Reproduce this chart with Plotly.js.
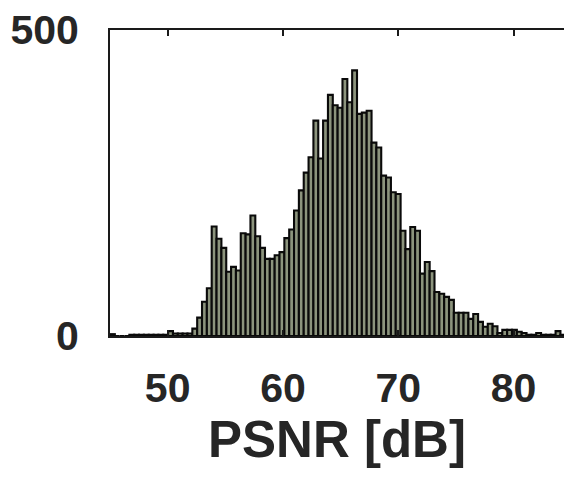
<!DOCTYPE html>
<html>
<head>
<meta charset="utf-8">
<script src="https://cdn.plot.ly/plotly-3.0.1.min.js"></script>
<style>
  html, body { margin: 0; padding: 0; background: #ffffff; }
  #chart { width: 564px; height: 477px; }
</style>
</head>
<body>
<div id="chart"></div>
<script>
// Histogram bin centres (PSNR in dB)
const binCenters = [
  45.21, 45.63, 46.05, 46.47, 46.89, 47.31, 47.73, 48.15, 48.57, 48.99,
  49.41, 49.83, 50.25, 50.67, 51.09, 51.51, 51.93, 52.35, 52.77, 53.19,
  53.61, 54.03, 54.45, 54.87, 55.29, 55.71, 56.13, 56.55, 56.97, 57.39,
  57.81, 58.23, 58.65, 59.07, 59.49, 59.91, 60.33, 60.75, 61.17, 61.59,
  62.01, 62.43, 62.85, 63.27, 63.69, 64.11, 64.53, 64.95, 65.37, 65.79,
  66.21, 66.63, 67.05, 67.47, 67.89, 68.31, 68.73, 69.15, 69.57, 69.99,
  70.41, 70.83, 71.25, 71.67, 72.09, 72.51, 72.93, 73.35, 73.77, 74.19,
  74.61, 75.03, 75.45, 75.87, 76.29, 76.71, 77.13, 77.55, 77.97, 78.39,
  78.81, 79.23, 79.65, 80.07, 80.49, 80.91, 81.33, 81.75, 82.17, 82.59,
  83.01, 83.43, 83.85, 84.27
];
// Counts per bin
const binCounts = [
  3, 0, 0, 0, 2, 2, 2, 2, 2, 2,
  2, 2, 8, 4, 4, 4, 4, 12, 30, 56,
  78, 179, 159, 144, 105, 113, 107, 168, 166, 197,
  163, 144, 126, 126, 132, 137, 160, 174, 205, 238,
  267, 292, 352, 290, 352, 394, 377, 373, 420, 382,
  434, 363, 365, 368, 316, 308, 262, 259, 235, 232,
  172, 142, 178, 172, 102, 121, 106, 72, 69, 64,
  59, 38, 38, 38, 28, 36, 23, 15, 20, 16,
  5, 10, 10, 10, 7, 5, 2, 2, 5, 2,
  2, 2, 8, 2
];
const xTickVals = [50, 60, 70, 80];
const xTickText = ['50', '60', '70', '80'];
const yTickVals = [0, 500];
const yTickText = ['0', '500'];
const xTitle = 'PSNR [dB]';

const trace = {
  type: 'bar',
  x: binCenters,
  y: binCounts,
  marker: { color: '#8c947d', line: { color: '#0a0a0a', width: 2.1 } },
  hoverinfo: 'x+y'
};

const fontFam = '"Liberation Sans", Arial, Helvetica, sans-serif';
const layout = {
  width: 564, height: 477,
  margin: { l: 110, r: 0, t: 30, b: 141, pad: 0 },
  paper_bgcolor: '#ffffff', plot_bgcolor: '#ffffff',
  bargap: 0,
  showlegend: false,
  font: { family: fontFam, color: '#262626' },
  xaxis: {
    range: [45, 84.37],
    tickvals: xTickVals, ticktext: xTickText,
    ticks: 'inside', ticklen: 6, tickwidth: 2, tickcolor: '#1a1a1a',
    showline: true, linecolor: '#1a1a1a', linewidth: 2, mirror: 'ticks',
    showgrid: false, zeroline: false,
    tickfont: { family: fontFam, size: 41, weight: 'bold', color: '#262626' },
    ticklabelstandoff: 15,
    title: { text: xTitle, font: { family: fontFam, size: 51, weight: 'bold', color: '#262626' }, standoff: 4 }
  },
  yaxis: {
    range: [0, 500],
    tickvals: yTickVals, ticktext: yTickText,
    ticks: 'inside', ticklen: 6, tickwidth: 2, tickcolor: '#1a1a1a',
    showline: true, linecolor: '#1a1a1a', linewidth: 2, mirror: false,
    showgrid: false, zeroline: false,
    tickfont: { family: fontFam, size: 41, weight: 'bold', color: '#262626' },
    ticklabelstandoff: 21
  }
};

Plotly.newPlot('chart', [trace], layout, { staticPlot: true, displayModeBar: false });
</script>
</body>
</html>
